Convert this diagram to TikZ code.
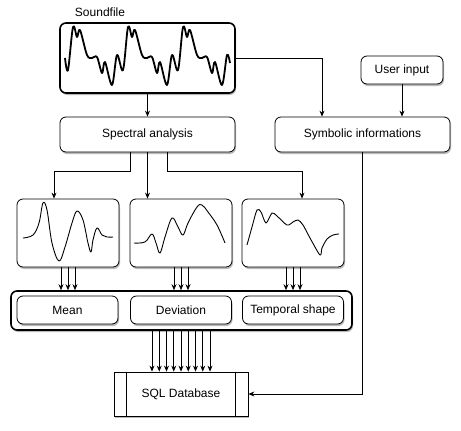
\documentclass[tikz,border=0pt]{standalone}
\usepackage{fontspec}
\setmainfont{Liberation Sans}
\usetikzlibrary{arrows.meta,shadows,calc}
\tikzset{
  txt/.style={font=\fontsize{12}{14}\selectfont},
  box/.style={txt, draw, rounded corners=6pt, fill=white, line width=0.8pt,
              drop shadow={opacity=0.55, shadow xshift=1pt, shadow yshift=-2pt},
              inner sep=0pt},
  arr/.style={line width=0.8pt, -{Stealth[length=6pt,width=5pt]}},
  wave/.style={line width=0.9pt, line join=round},
}
\begin{document}
\begin{tikzpicture}[x=1pt,y=-1pt]
\useasboundingbox (0,0) rectangle (461,431);
% nodes
\node[txt] (label) at (100,12) {Soundfile};
\node[box, line width=1.6pt, minimum width=175pt, minimum height=70pt] (sound) at (147.5,58) {};
\node[box, minimum width=175pt, minimum height=35pt] (spec) at (147.5,134.5) {Spectral analysis};
\node[box, minimum width=175pt, minimum height=35pt] (sym) at (362.5,134.5) {Symbolic informations};
\node[box, minimum width=82pt, minimum height=28pt] (user) at (402,70) {User input};
\node[box, minimum width=102pt, minimum height=68pt] (w1) at (68,233) {};
\node[box, minimum width=102pt, minimum height=68pt] (w2) at (181,233) {};
\node[box, minimum width=102pt, minimum height=68pt] (w3) at (293,233) {};
\node[box, line width=1.6pt, minimum width=341pt, minimum height=39pt] (cont) at (181.5,310.5) {};
\node[box, drop shadow={opacity=0}, minimum width=101pt, minimum height=28pt] (mean) at (67.5,310) {Mean};
\node[box, drop shadow={opacity=0}, minimum width=101pt, minimum height=28pt] (dev) at (181,310) {Deviation};
\node[box, drop shadow={opacity=0}, minimum width=101pt, minimum height=28pt] (temp) at (293,310) {Temporal shape};
\node[box, rounded corners=0pt, minimum width=134pt, minimum height=44pt] (sql) at (181,394) {SQL Database};
\draw[line width=0.8pt] ($(sql.north west)+(13,0)$) -- ($(sql.south west)+(13,0)$);
\draw[line width=0.8pt] ($(sql.north east)+(-13,0)$) -- ($(sql.south east)+(-13,0)$);
% waveforms
\draw[wave, line width=1.8pt] plot[smooth, tension=0.55] coordinates {
 (65,58) (68,70) (73,27) (77,37) (80,30) (87,55) (92,58) (97,57) (102,73) (105,62) (112,85) (117,55)
 (123,70) (128,27) (132,37) (135,30) (142,55) (147,58) (152,57) (157,73) (160,62) (167,85) (172,55)
 (178,70) (183,27) (187,37) (190,30) (197,55) (202,58) (207,57) (212,73) (215,62) (222,85) (227,55) (230,63)};
\draw[wave] plot[smooth, tension=0.6] coordinates {
 (23,238) (33,235) (39,223) (43,203) (47,210) (52,243) (59,261) (65,247) (72,223) (77,211) (83,220)
 (88,243) (91,252) (93,240) (97,228) (102,235) (107,237) (113,237)};
\draw[wave] plot[smooth, tension=0.6] coordinates {
 (134,243) (145,242) (152,234) (156,243) (160,253) (165,237) (172,218) (178,227) (183,235) (188,223)
 (197,207) (202,205) (208,212) (217,225) (225,243)};
\draw[wave] plot[smooth, tension=0.5] coordinates {
 (247,245) (252,227) (257,210) (261,212) (266,223) (272,213) (277,216) (287,225) (293,222) (298,220)
 (303,225) (310,238) (320,255) (322,248) (327,239) (333,235) (339,234)};
% connectors
\draw[arr] (sound.south) -- (spec.north);
\draw[arr] (sound.east) -| ([xshift=-40.5pt]sym.north);
\draw[arr] (user.south) -- (user.south |- sym.north);
\draw[arr] ([xshift=-17.5pt]spec.south) -- ++(0,19) -| ([xshift=-14pt]w1.north);
\draw[arr] (spec.south) -- (spec.south |- w2.north);
\draw[arr] ([xshift=19.5pt]spec.south) -- ++(0,19) -| ([xshift=9pt]w3.north);
\foreach \w in {w1,w2,w3}{
  \foreach \d in {-7,0,7}{
    \draw[arr] ([xshift=\d pt]\w.south) -- ([xshift=\d pt]\w.south |- cont.north);
  }
}
\foreach \d in {-29,-21.75,-14.5,-7.25,0,7.25,14.5,21.75,29}{
  \draw[arr] ([xshift=\d pt]sql.north |- cont.south) -- ([xshift=\d pt]sql.north);
}
\draw[arr] (sym.south) |- (sql.east);
\end{tikzpicture}
\end{document}
